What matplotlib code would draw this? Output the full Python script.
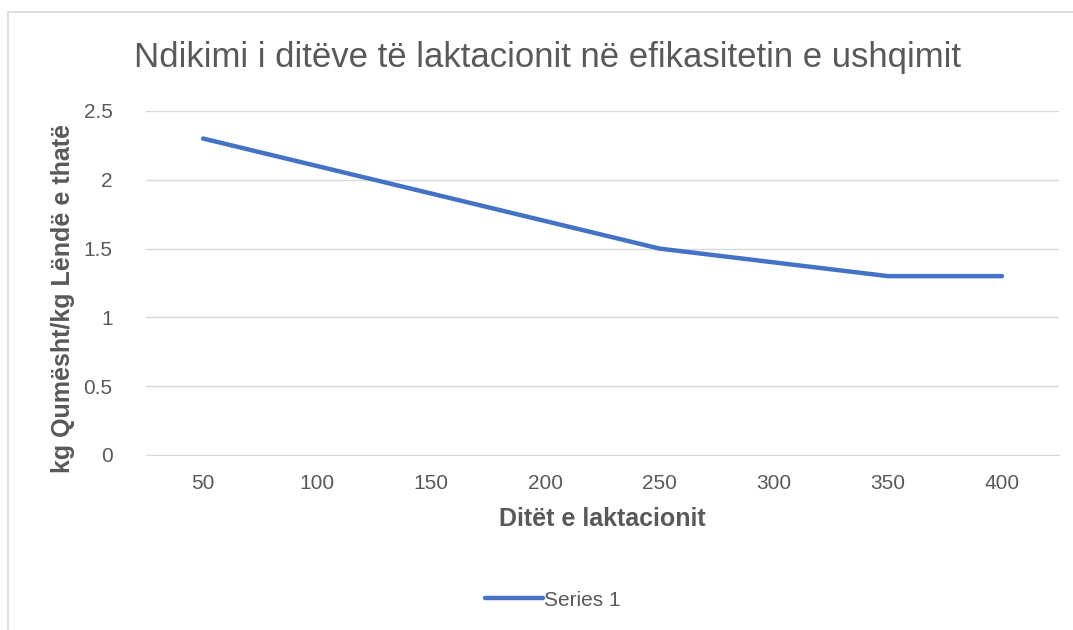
import matplotlib.pyplot as plt
from matplotlib.patches import Rectangle

# data
dite = [50, 100, 150, 200, 250, 300, 350, 400]
series1 = [2.3, 2.1, 1.9, 1.7, 1.5, 1.4, 1.3, 1.3]
yticks = [0, 0.5, 1, 1.5, 2, 2.5]
ytick_labels = ['0', '0.5', '1', '1.5', '2', '2.5']

plt.rcParams['font.family'] = ['Liberation Sans', 'DejaVu Sans']
txt = '#595959'
grid = '#d9d9d9'

fig = plt.figure(figsize=(10.73, 6.3), dpi=100)

# outer chart border (light gray, like the Excel chart frame)
fig.patches.append(Rectangle((8 / 1073, -0.05), 1.1, (630 - 12) / 630 + 0.05,
                             transform=fig.transFigure, fill=False,
                             edgecolor=grid, linewidth=1.2))

ax = fig.add_axes([146 / 1073, 1 - 455 / 630, (1059 - 146) / 1073, (455 - 111) / 630])
pos = list(range(len(dite)))
ax.plot(pos, series1, color='#4472C4', linewidth=3.2, solid_capstyle='round',
        label='Series 1')

ax.set_xlim(-0.5, len(dite) - 0.5)
ax.set_ylim(0, 2.5)
ax.set_xticks(pos)
ax.set_xticklabels([str(d) for d in dite])
ax.set_yticks(yticks)
ax.set_yticklabels(ytick_labels)
ax.grid(axis='y', color=grid, linewidth=1)
ax.set_axisbelow(True)
for s in ['top', 'right', 'left']:
    ax.spines[s].set_visible(False)
ax.spines['bottom'].set_color(grid)
ax.tick_params(length=0, colors=txt, labelsize=15, pad=14)
ax.tick_params(axis='y', pad=24)

ax.set_xlabel('Ditët e laktacionit', fontsize=18, fontweight='bold', color=txt, labelpad=10)
ax.set_ylabel('kg Qumësht/kg Lëndë e thatë', fontsize=18, fontweight='bold', color=txt)
ax.yaxis.set_label_coords(-0.078, 0.456)

fig.text(548 / 1073, 1 - 58 / 630, 'Ndikimi i ditëve të laktacionit në efikasitetin e ushqimit',
         ha='center', va='center', fontsize=25, color=txt)

fig.legend(loc='center', bbox_to_anchor=(553 / 1073, 1 - 600 / 630), frameon=False,
           fontsize=15, labelcolor=txt, handlelength=2.8, handletextpad=0.05)

fig.savefig('out.png', dpi=100)
